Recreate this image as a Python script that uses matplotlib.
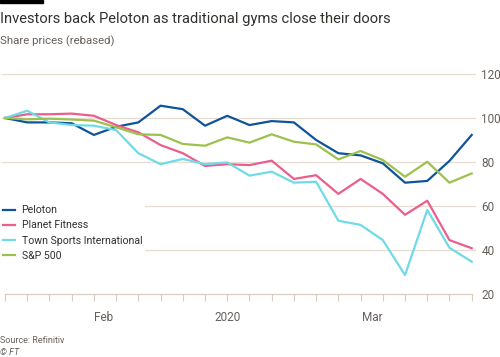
import matplotlib.pyplot as plt
import matplotlib.patches as mpatches
import matplotlib.transforms as mtransforms

plt.rcParams['font.family'] = ['Roboto', 'DejaVu Sans']

# weekly rebased share prices
peloton = [100, 98, 98, 97.6, 92.3, 96, 98, 105.6, 104, 96.5, 101, 96.8,
           98.6, 98, 90, 84, 83, 79.4, 70.6, 71.4, 80.5, 92.3]
planet_fitness = [100, 101.7, 101.7, 102, 101, 96.8, 93.5, 87.7, 84, 78.2, 79, 78.6,
                  80.6, 72.3, 74, 65.5, 72.3, 65.5, 56, 62.4, 44.5, 40.8]
town_sports = [100, 103.3, 98, 96.8, 96.5, 94.5, 84, 79, 81.4, 79, 79.8, 73.8,
               75.6, 70.6, 71, 53.3, 51.4, 44.5, 28.6, 58.2, 41, 34.7]
sp500 = [100, 99.4, 99.7, 99.3, 98.8, 95.8, 92.6, 92.3, 88.2, 87.4, 91.2, 88.8,
         92.6, 89.2, 88, 81.2, 85, 80.9, 73.3, 80.1, 70.6, 74.8]

series = [("Peloton", peloton, "#0f5499"),
          ("Planet Fitness", planet_fitness, "#eb5e8d"),
          ("Town Sports International", town_sports, "#6fdbe8"),
          ("S&P 500", sp500, "#9cc14d")]

x_labels = ["Feb", "2020", "Mar"]
x_label_pos = [4.45, 10, 16.55]
y_ticks = [20, 40, 60, 80, 100, 120]

grid_col = "#e8ddd3"
text_col = "#66605c"

fig = plt.figure(figsize=(5, 3.57), dpi=100)
fig.patch.set_facecolor("white")
ax = fig.add_axes([0.01, 0.1765, 0.9334, 0.6162])

x = list(range(len(peloton)))
for name, vals, col in series:
    ax.plot(x, vals, color=col, linewidth=1.6, label=name, zorder=3, clip_on=False)

ax.set_xlim(0, 21)
ax.set_ylim(20, 120)
for v in y_ticks[1:]:
    ax.axhline(v, color=grid_col, linewidth=0.9, xmin=-0.007, xmax=1.008, clip_on=False, zorder=1)

for s in ["top", "left", "right"]:
    ax.spines[s].set_visible(False)
ax.spines["bottom"].set_color("#d9ccc1")
ax.spines["bottom"].set_linewidth(0.9)

ax.set_xticks(x)
ax.set_xticklabels([])
ax.tick_params(axis="x", length=5, color="#d9ccc1", width=0.8)
ax.yaxis.tick_right()
ax.set_yticks(y_ticks)
ax.set_yticklabels([str(v) for v in y_ticks])
ax.tick_params(axis="y", length=0, pad=7, labelsize=8.5, labelcolor=text_col)

trans = mtransforms.blended_transform_factory(ax.transData, ax.transAxes)
for lab, p in zip(x_labels, x_label_pos):
    ax.text(p, -0.105, lab, transform=trans, ha="center", va="center",
            fontsize=8.5, color=text_col)

leg = ax.legend(loc="upper left", bbox_to_anchor=(-0.012, 0.418), frameon=True,
                fontsize=7.6, handlelength=1.2, handletextpad=0.6, labelspacing=0.5,
                borderpad=0.3, borderaxespad=0)
leg.get_frame().set_facecolor("white")
leg.get_frame().set_edgecolor("none")
leg.get_frame().set_alpha(1)
for t in leg.get_texts():
    t.set_color("#33302e")

fig.text(0.0, 0.947, "Investors back Peloton as traditional gyms close their doors",
         fontsize=10.6, color="#33302e", ha="left", va="center")
fig.text(0.0, 0.885, "Share prices (rebased)", fontsize=8.2, color=text_col,
         ha="left", va="center")
fig.text(0.0, 0.045, "Source: Refinitiv", fontsize=6.5, color=text_col, ha="left", va="center")
fig.text(0.0, 0.013, "\u00a9 FT", fontsize=6.5, color=text_col, ha="left", va="center",
         style="italic")
fig.patches.append(mpatches.Rectangle((0, 0.992), 0.086, 0.008, transform=fig.transFigure,
                                      color="black", figure=fig))

fig.savefig("out.png", dpi=100)
